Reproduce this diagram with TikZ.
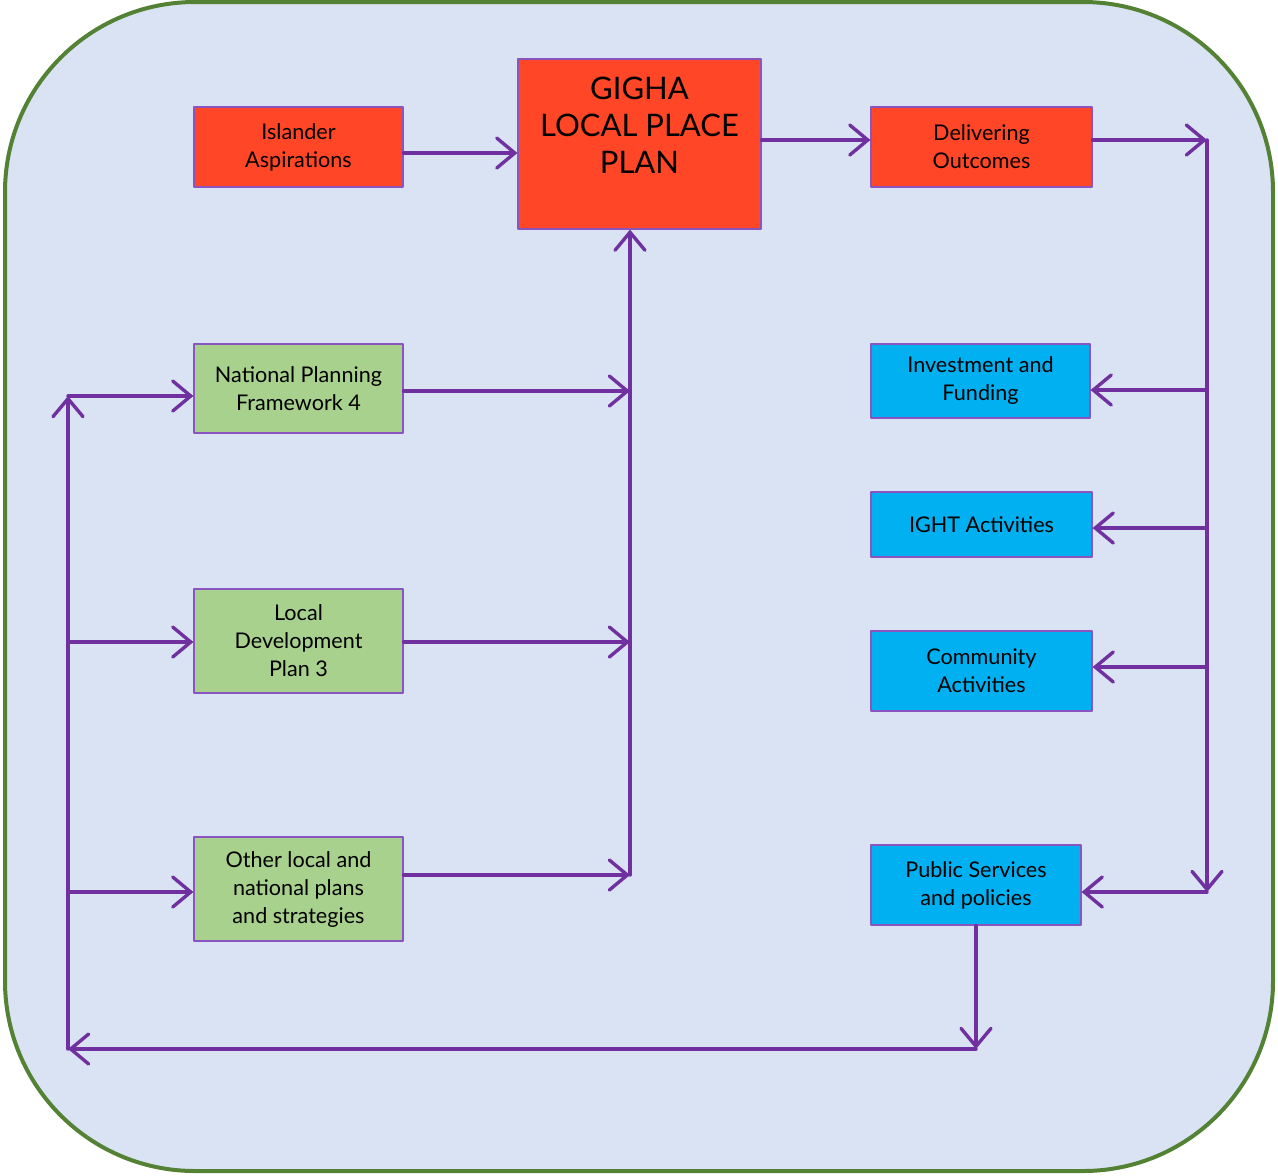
\documentclass[tikz,border=0pt]{standalone}
\usepackage{fontspec}
\setmainfont{Lato}
\usetikzlibrary{arrows.meta}
\definecolor{bgblue}{HTML}{DAE3F3}
\definecolor{rimgreen}{HTML}{548235}
\definecolor{planred}{HTML}{FF4728}
\definecolor{plangreen}{HTML}{A9D18E}
\definecolor{outblue}{HTML}{00B0F0}
\definecolor{linkpurple}{HTML}{7030A0}
\definecolor{boxedge}{HTML}{8A55C0}
\tikzset{
  box/.style={draw=boxedge, line width=0.6pt, align=center, inner sep=2pt},
  redbox/.style={box, fill=planred},
  greenbox/.style={box, fill=plangreen},
  bluebox/.style={box, fill=outblue},
  link/.style={->, draw=linkpurple, line width=1.7pt}
}
\begin{document}
\begin{tikzpicture}[x=0.5pt, y=-0.5pt, >={Straight Barb[length=9pt,width=15pt,line cap=round]}, font=\fontsize{10.8}{14}\selectfont, line join=round, line cap=round]
  \useasboundingbox (0,0) rectangle (1278,1175);
  \draw[rimgreen, line width=2pt, fill=bgblue, rounded corners=95pt] (5,2) rectangle (1273,1171);
  % top row
  \node[redbox, minimum width=104.5pt, minimum height=40pt] (isl) at (298.5,147) {Islander\\Aspirations};
  \node[redbox, minimum width=121.5pt, minimum height=85pt] (plan) at (639.5,144) {};
  \node[font=\fontsize{15.5}{18.5}\selectfont, align=center, yshift=9.5pt] (plantext) at (plan.center) {GIGHA\\LOCAL PLACE\\PLAN};
  \node[redbox, minimum width=110.5pt, minimum height=40pt] (del) at (981.5,147) {Delivering\\Outcomes};
  % left column
  \node[greenbox, minimum width=104.5pt, minimum height=44.5pt] (npf) at (298.5,388.5) {National Planning\\Framework 4};
  \node[greenbox, minimum width=104.5pt, minimum height=52pt] (ldp) at (298.5,641) {Local\\Development\\Plan 3};
  \node[greenbox, minimum width=104.5pt, minimum height=52pt] (oth) at (298.5,889) {Other local and\\national plans\\and strategies};
  % right column
  \node[bluebox, minimum width=109.5pt, minimum height=37pt] (inv) at (980.5,381) {Investment and\\Funding};
  \node[bluebox, minimum width=110.5pt, minimum height=32.5pt] (ight) at (981.5,524.5) {IGHT Activities};
  \node[bluebox, minimum width=110.5pt, minimum height=40pt] (com) at (981.5,671) {Community\\Activities};
  \node[bluebox, minimum width=105pt, minimum height=40pt] (pub) at (976,885) {Public Services\\and policies};
  % junctions
  \coordinate (rt) at (1207,140);
  \coordinate (rb) at (1207,892);
  \coordinate (ri) at (1205,390);
  \coordinate (rg) at (1205,528);
  \coordinate (rc) at (1205,667);
  \coordinate (bt) at (976,1049);
  \coordinate (lb) at (68,1049);
  \coordinate (lt) at (68,396);
  \coordinate (ll) at (68,642);
  \coordinate (lo) at (68,892);
  \coordinate (mn) at (630,391);
  \coordinate (ml) at (630,642);
  \coordinate (mo) at (630,875);
  % links
  \draw[link] ([yshift=-3pt]isl.east) -- ([yshift=-3pt]isl.east -| plan.west);
  \draw[link] (plan.east |- rt) -- (del.west |- rt);
  \draw[link] (del.east |- rt) -- (rt);
  \draw[link] (rt) -- (rb);
  \draw[link] (ri) -- (ri -| inv.east);
  \draw[link] (rg) -- (rg -| ight.east);
  \draw[link] (rc) -- (rc -| com.east);
  \draw[link] (rb) -- (rb -| pub.east);
  \draw[link] (pub.south) -- (bt);
  \draw[link] (bt) -- (lb);
  \draw[link] (lb) -- (lt);
  \draw[link] (lt) -- (lt -| npf.west);
  \draw[link] (ll) -- (ll -| ldp.west);
  \draw[link] (lo) -- (lo -| oth.west);
  \draw[link] (npf.east |- mn) -- (mn);
  \draw[link] (ldp.east |- ml) -- (ml);
  \draw[link] (oth.east |- mo) -- (mo);
  \draw[link] (mo) -- (mo |- plan.south);
\end{tikzpicture}
\end{document}
